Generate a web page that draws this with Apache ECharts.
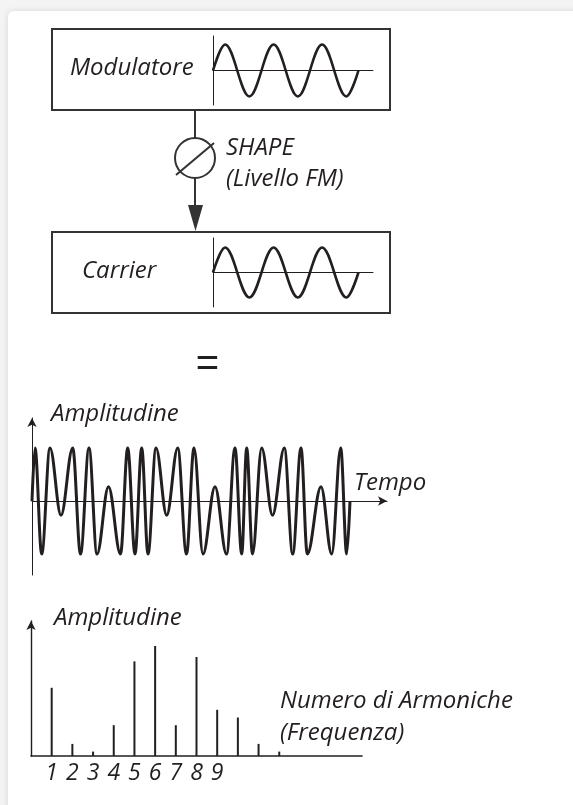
<!DOCTYPE html>
<html>
<head>
<meta charset="utf-8">
<script src="https://cdn.jsdelivr.net/npm/echarts@6/dist/echarts.min.js"></script>
<style>
  html, body { margin: 0; padding: 0; background: #fff; }
  #main { width: 573px; height: 805px; }
</style>
</head>
<body>
<div id="main"></div>
<script>
// Sine waves in the two boxes: extrema (x in cycles, y normalised)
var modulatorWave = [[0, 0], [0.25, 1], [0.75, -1], [1.25, 1], [1.75, -1], [2.25, 1], [2.75, -1], [3, 0]];
var carrierWave = [[0, 0], [0.25, 1], [0.75, -1], [1.25, 1], [1.75, -1], [2.25, 1], [2.75, -1], [3, 0]];

// FM output wave: time of each peak / trough and its amplitude
var fmTime = [0, 3, 9.7, 18, 29, 40.7, 48.5, 57, 65, 76.5,
  88.5, 95.7, 103, 109.7, 116, 124, 134.7, 145.7, 154.5, 162,
  171, 183, 194.5, 203, 209.7, 214.7, 220.5, 229.7, 240.5, 252.3,
  260.7, 269, 275.3, 289, 299.7, 308.7, 314.7, 318];
var fmAmp = [0, 1, -1, 1, -0.27, 1, -1, 1, -1, 0.27,
  -1, 1, -1, 1, -1, 1, -0.27, 1, -1, 1,
  -1, 0.27, -1, 1, -1, 1, -1, 1, -0.27, 1,
  -1, 1, -1, 0.27, -1, 1, -1, 0];

// Spectrum
var harmonicNumbers = [1, 2, 3, 4, 5, 6, 7, 8, 9, 10, 11, 12];
var harmonicAmps = [0.62, 0.11, 0.04, 0.28, 0.86, 1.0, 0.28, 0.9, 0.42, 0.35, 0.11, 0.04];
var harmonicLabels = ['1', '2', '3', '4', '5', '6', '7', '8', '9'];

var ink = '#231f20';
var font = '"Open Sans", sans-serif';
var textSize = 24;

var chart = echarts.init(document.getElementById('main'));

function plainAxis(min, max, extra) {
  var ax = {
    type: 'value', min: min, max: max,
    axisLine: { show: true, onZero: true, lineStyle: { color: ink, width: 1 } },
    axisTick: { show: false },
    axisLabel: { show: false },
    splitLine: { show: false }
  };
  return Object.assign(ax, extra || {});
}

// x = left edge, baseline = y of the text baseline
function label(text, x, baseline) {
  return {
    type: 'text', x: x, y: baseline - 0.388 * textSize,
    style: {
      text: text, fill: ink, fontFamily: font, fontStyle: 'italic',
      fontSize: textSize, verticalAlign: 'middle'
    }
  };
}

var fmData = fmTime.map(function (t, i) { return [t, fmAmp[i]]; });
var spectrumData = harmonicNumbers.map(function (n, i) { return [n, harmonicAmps[i]]; });

var waveLine = { color: ink, width: 2.6 };

var option = {
  backgroundColor: '#f4f4f4',
  animation: false,
  grid: [
    { left: 213, top: 36, width: 160, height: 69, outerBoundsMode: 'none' },
    { left: 213, top: 238, width: 160, height: 69, outerBoundsMode: 'none' },
    { left: 32, top: 418, width: 355, height: 157, outerBoundsMode: 'none' },
    { left: 31, top: 621, width: 331, height: 135, outerBoundsMode: 'none' }
  ],
  xAxis: [
    plainAxis(0, 3.3, { gridIndex: 0 }),
    plainAxis(0, 3.3, { gridIndex: 1 }),
    plainAxis(0, 355, {
      gridIndex: 2,
      axisLine: { show: true, onZero: true, symbol: ['none', 'arrow'], symbolSize: [7, 9], lineStyle: { color: ink, width: 1 } }
    }),
    plainAxis(0, 16, {
      gridIndex: 3, interval: 1,
      axisLine: { show: true, onZero: true, lineStyle: { color: ink, width: 1.6 } },
      axisLabel: {
        show: true, margin: 6, color: ink, fontFamily: font, fontStyle: 'italic', fontSize: 23,
        formatter: function (v) { return harmonicLabels[v - 1] || ''; }
      }
    })
  ],
  yAxis: [
    plainAxis(-1.33, 1.33, { gridIndex: 0 }),
    plainAxis(-1.38, 1.38, { gridIndex: 1 }),
    plainAxis(-1.396, 1.566, {
      gridIndex: 2,
      axisLine: { show: true, onZero: true, symbol: ['none', 'arrow'], symbolSize: [7, 9], lineStyle: { color: ink, width: 1 } }
    }),
    plainAxis(0, 1.227, {
      gridIndex: 3,
      axisLine: { show: true, onZero: true, symbol: ['none', 'arrow'], symbolSize: [7, 9], lineStyle: { color: ink, width: 1.4 } }
    })
  ],
  series: [
    {
      type: 'line', xAxisIndex: 0, yAxisIndex: 0, data: modulatorWave,
      smooth: 0.36, smoothMonotone: 'x', symbol: 'none', lineStyle: waveLine
    },
    {
      type: 'line', xAxisIndex: 1, yAxisIndex: 1, data: carrierWave,
      smooth: 0.36, smoothMonotone: 'x', symbol: 'none', lineStyle: waveLine
    },
    {
      type: 'line', xAxisIndex: 2, yAxisIndex: 2, data: fmData,
      smooth: 0.36, smoothMonotone: 'x', symbol: 'none', lineStyle: { color: ink, width: 3 }
    },
    {
      type: 'bar', xAxisIndex: 3, yAxisIndex: 3, data: spectrumData,
      barWidth: 2, itemStyle: { color: ink }
    }
  ],
  graphic: [
    // paper card
    {
      type: 'rect', z: -10, shape: { x: 8, y: 11, width: 700, height: 900, r: 6 },
      style: { fill: '#fff', shadowBlur: 6, shadowColor: 'rgba(0,0,0,0.12)' }
    },
    // boxes
    { type: 'rect', shape: { x: 52, y: 29, width: 338, height: 81 }, style: { fill: null, stroke: '#333', lineWidth: 2 } },
    { type: 'rect', shape: { x: 52, y: 232, width: 338, height: 81 }, style: { fill: null, stroke: '#333', lineWidth: 2 } },
    // connector, level knob and arrow
    { type: 'line', shape: { x1: 195, y1: 110, x2: 195, y2: 138 }, style: { stroke: '#333', lineWidth: 2 } },
    { type: 'circle', shape: { cx: 195, cy: 158, r: 20 }, style: { fill: null, stroke: '#333', lineWidth: 2 } },
    { type: 'line', shape: { x1: 176, y1: 175, x2: 214, y2: 143 }, style: { stroke: '#333', lineWidth: 2 } },
    { type: 'line', shape: { x1: 195, y1: 178, x2: 195, y2: 206 }, style: { stroke: '#333', lineWidth: 2 } },
    { type: 'polygon', shape: { points: [[188, 205], [203, 205], [195.5, 231]] }, style: { fill: '#333' } },
    // texts
    label('Modulatore', 70, 77),
    label('SHAPE', 226, 157),
    label('(Livello FM)', 226, 188),
    label('Carrier', 82, 280),
    {
      type: 'text', x: 207.5, y: 365,
      style: { text: '=', fill: ink, fontFamily: '"Liberation Sans", sans-serif', fontSize: 40, align: 'center', verticalAlign: 'middle' }
    },
    label('Amplitudine', 51, 423),
    label('Tempo', 354, 492),
    label('Amplitudine', 54, 627),
    label('Numero di Armoniche', 280, 710),
    label('(Frequenza)', 280, 742)
  ]
};

chart.setOption(option);
</script>
</body>
</html>
